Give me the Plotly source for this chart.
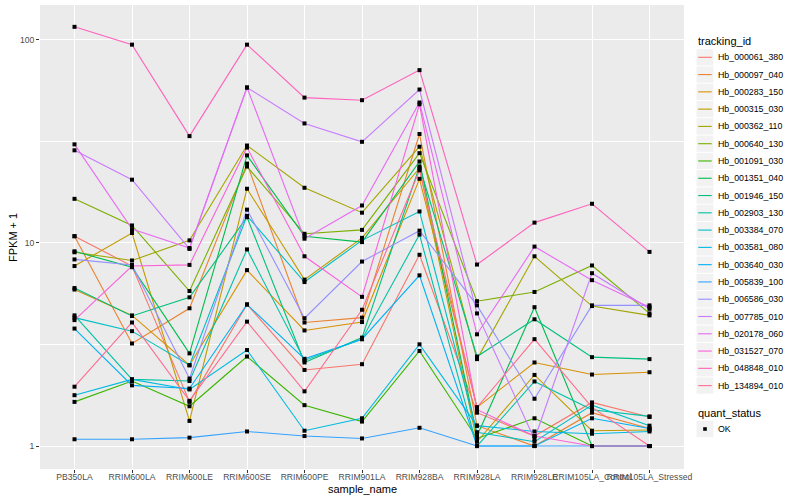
import plotly.graph_objects as go

samples = ["PB350LA", "RRIM600LA", "RRIM600LE", "RRIM600SE", "RRIM600PE", "RRIM901LA",
           "RRIM928BA", "RRIM928LA", "RRIM928LE", "RRIM105LA_Control", "RRIM105LA_Stressed"]

tracking_ids = ["Hb_000061_380", "Hb_000097_040", "Hb_000283_150", "Hb_000315_030", "Hb_000362_110",
                "Hb_000640_130", "Hb_001091_030", "Hb_001351_040", "Hb_001946_150", "Hb_002903_130",
                "Hb_003384_070", "Hb_003581_080", "Hb_003640_030", "Hb_005839_100", "Hb_006586_030",
                "Hb_007785_010", "Hb_020178_060", "Hb_031527_070", "Hb_048848_010", "Hb_134894_010"]

colors = ["#F8766D", "#EA8331", "#D89000", "#C09B00", "#A3A500", "#7CAE00", "#39B600", "#00BB4E",
          "#00BF7D", "#00C1A3", "#00BFC4", "#00BAE0", "#00B0F6", "#35A2FF", "#9590FF", "#C77CFF",
          "#E76BF3", "#FA62DB", "#FF62BC", "#FF6C91"]

# FPKM + 1 values per tracking_id, in sample order
v_000061_380 = [10.8, 7.7, 1.65, 4.98, 2.37, 2.53, 8.75, 1.46, 1.12, 1.64, 1.39]
v_000097_040 = [10.8, 3.2, 4.77, 24.6, 4.06, 4.29, 34.4, 1.26, 1.0, 1.46, 1.22]
v_000283_150 = [5.9, 4.4, 2.5, 7.35, 3.71, 4.08, 20.7, 1.55, 2.58, 2.25, 2.31]
v_000315_030 = [7.7, 11.2, 1.33, 18.5, 6.6, 10.6, 23.4, 1.05, 2.24, 1.19, 1.2]
v_000362_110 = [9.0, 8.2, 10.3, 30.2, 18.7, 14.1, 29.8, 2.68, 8.6, 4.89, 4.4]
v_000640_130 = [16.5, 12.2, 5.8, 23.8, 11.1, 11.6, 27.7, 5.17, 5.74, 7.75, 4.5]
v_001091_030 = [1.65, 2.09, 1.57, 2.76, 1.59, 1.32, 2.94, 1.09, 1.37, 1.0, 1.0]
v_001351_040 = [9.1, 7.6, 2.86, 27.0, 10.8, 10.1, 25.2, 1.12, 4.83, 1.0, 1.0]
v_001946_150 = [6.0, 4.37, 5.4, 13.4, 2.58, 3.42, 23.8, 2.76, 4.21, 2.74, 2.68]
v_002903_130 = [4.4, 2.13, 2.09, 9.3, 2.64, 3.36, 11.0, 1.0, 2.08, 1.51, 1.4]
v_003384_070 = [4.29, 3.68, 2.5, 13.6, 6.42, 10.3, 14.3, 1.17, 1.05, 1.59, 1.26]
v_003581_080 = [1.78, 2.13, 1.9, 2.97, 1.19, 1.37, 3.17, 1.26, 1.18, 1.15, 1.18]
v_003640_030 = [3.79, 1.99, 1.92, 4.98, 2.69, 3.36, 6.93, 1.0, 1.0, 1.37, 1.22]
v_005839_100 = [1.08, 1.08, 1.10, 1.18, 1.12, 1.09, 1.23, 1.0, 1.0, 1.0, 1.0]
v_006586_030 = [8.3, 7.8, 2.15, 14.6, 4.26, 8.1, 11.5, 4.93, 1.71, 4.93, 4.93]
v_007785_010 = [28.6, 20.5, 9.35, 58.3, 38.8, 31.5, 57.0, 4.5, 1.08, 7.1, 4.74]
v_020178_060 = [30.6, 11.7, 9.45, 58.3, 10.5, 15.3, 49.2, 3.55, 9.6, 6.56, 4.83]
v_031527_070 = [4.17, 7.7, 7.8, 29.5, 8.6, 5.43, 48.2, 1.51, 1.12, 1.0, 1.0]
v_048848_010 = [116.0, 94.8, 33.6, 94.8, 52.0, 50.5, 71.0, 7.83, 12.6, 15.6, 9.04]
v_134894_010 = [1.96, 4.06, 1.67, 4.10, 1.86, 4.69, 22.8, 1.55, 3.36, 1.55, 1.0]

series_values = [v_000061_380, v_000097_040, v_000283_150, v_000315_030, v_000362_110,
                 v_000640_130, v_001091_030, v_001351_040, v_001946_150, v_002903_130,
                 v_003384_070, v_003581_080, v_003640_030, v_005839_100, v_006586_030,
                 v_007785_010, v_020178_060, v_031527_070, v_048848_010, v_134894_010]

quant_levels = ["OK"]

fig = go.Figure()
for name, vals, col in zip(tracking_ids, series_values, colors):
    fig.add_trace(go.Scatter(x=samples, y=vals, mode="lines", name=name,
                             line=dict(color=col, width=1.1), showlegend=False))
for name, vals in zip(tracking_ids, series_values):
    fig.add_trace(go.Scatter(x=samples, y=vals, mode="markers", name=name,
                             marker=dict(color="black", symbol="square", size=4,
                                         line=dict(width=0)),
                             showlegend=False))

# panel geometry in pixels
L, R, T, B = 40, 684, 5, 469
W, H = 800, 500


def px(x):
    return (x - L) / (R - L)


def py(y):
    return (B - y) / (B - T)


shapes = []
annotations = []

# axis titles
annotations.append(dict(xref="paper", yref="paper", x=px(362), y=py(489), text="sample_name",
                        showarrow=False, xanchor="center", yanchor="middle",
                        font=dict(size=11, color="black")))
annotations.append(dict(xref="paper", yref="paper", x=px(13), y=py(237), text="FPKM + 1",
                        showarrow=False, xanchor="center", yanchor="middle", textangle=-90,
                        font=dict(size=11, color="black")))

# legend: tracking_id
annotations.append(dict(xref="paper", yref="paper", x=px(696), y=py(40.7), text="tracking_id",
                        showarrow=False, xanchor="left", yanchor="middle",
                        font=dict(size=11, color="black")))
y0 = 57.3
step = 17.28
for i, (name, col) in enumerate(zip(tracking_ids, colors)):
    yc = y0 + step * i
    shapes.append(dict(type="rect", xref="paper", yref="paper",
                       x0=px(696.5), x1=px(713.3), y0=py(yc - step / 2 + 0.5), y1=py(yc + step / 2 - 0.5),
                       fillcolor="#F2F2F2", line=dict(width=0), layer="below"))
    shapes.append(dict(type="line", xref="paper", yref="paper",
                       x0=px(698.2), x1=px(711.7), y0=py(yc), y1=py(yc),
                       line=dict(color=col, width=1.1)))
    annotations.append(dict(xref="paper", yref="paper", x=px(716), y=py(yc), text=name,
                            showarrow=False, xanchor="left", yanchor="middle",
                            font=dict(size=8.8, color="black")))

# legend: quant_status
annotations.append(dict(xref="paper", yref="paper", x=px(696), y=py(412.5), text="quant_status",
                        showarrow=False, xanchor="left", yanchor="middle",
                        font=dict(size=11, color="black")))
for j, q in enumerate(quant_levels):
    yc = 429 + step * j
    shapes.append(dict(type="rect", xref="paper", yref="paper",
                       x0=px(696.5), x1=px(713.3), y0=py(yc - step / 2 + 0.5), y1=py(yc + step / 2 - 0.5),
                       fillcolor="#F2F2F2", line=dict(width=0), layer="below"))
    shapes.append(dict(type="rect", xref="paper", yref="paper",
                       x0=px(703.2), x1=px(706.8), y0=py(yc - 1.8), y1=py(yc + 1.8),
                       fillcolor="black", line=dict(width=0)))
    annotations.append(dict(xref="paper", yref="paper", x=px(716), y=py(yc), text=q,
                            showarrow=False, xanchor="left", yanchor="middle",
                            font=dict(size=8.8, color="black")))

fig.update_layout(
    width=W, height=H,
    margin=dict(l=L, r=W - R, t=T, b=H - B, pad=0),
    paper_bgcolor="white",
    plot_bgcolor="#EBEBEB",
    font=dict(family="Liberation Sans, Arial, sans-serif"),
    showlegend=False,
    shapes=shapes,
    annotations=annotations,
    xaxis=dict(
        type="category", categoryorder="array", categoryarray=samples,
        range=[-0.6, len(samples) - 0.4],
        showgrid=True, gridcolor="white", gridwidth=1.1, zeroline=False,
        ticks="outside", ticklen=3, tickwidth=1, tickcolor="#333333",
        tickangle=0, ticklabelstandoff=-3,
        tickfont=dict(size=8.6, color="#4D4D4D"),
        showline=False, automargin=False,
    ),
    yaxis=dict(
        type="log", range=[-0.113, 2.172],
        tickvals=[1, 10, 100], ticktext=["1", "10", "100"],
        showgrid=True, gridcolor="white", gridwidth=1.1, zeroline=False,
        ticks="outside", ticklen=3, tickwidth=1, tickcolor="#333333",
        tickfont=dict(size=8.6, color="#4D4D4D"),
        minor=dict(tickvals=[3.1623, 31.623], showgrid=True, gridcolor="white", gridwidth=0.5, ticks=""),
        showline=False, automargin=False,
    ),
)

fig.write_html("out.html", config={"displayModeBar": False},
               post_script="document.body.style.margin='0';document.body.style.padding='0';")
